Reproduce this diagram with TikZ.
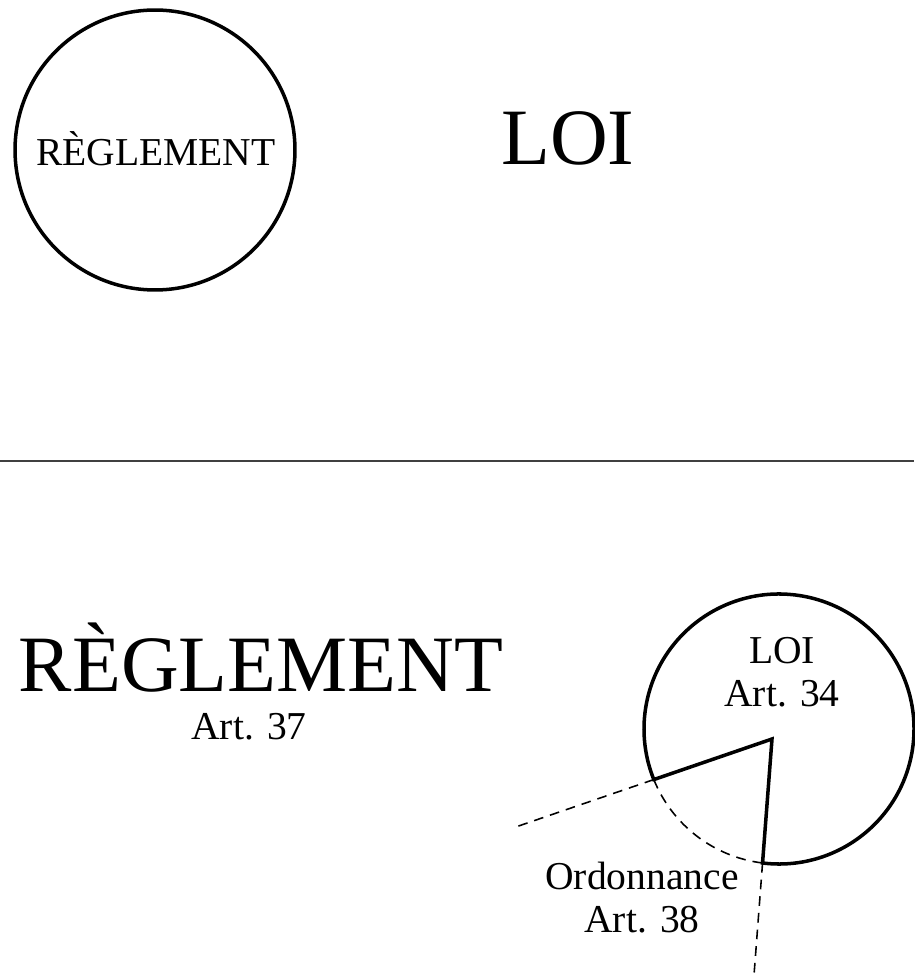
\documentclass[tikz,border=0pt]{standalone}
\usepackage{fontspec}
\setmainfont{Liberation Serif}
\usepackage{tikz}
\usetikzlibrary{positioning, calc}

\tikzset{
  bigtext/.style={font=\fontsize{45.5}{48}\selectfont, inner sep=0pt},
  smalltext/.style={font=\fontsize{22.5}{24.5}\selectfont, align=center, inner sep=0pt},
  cutline/.style={line width=0.9pt, dash pattern=on 5.5pt off 4pt},
}

\begin{document}
\begin{tikzpicture}[x=0.02cm, y=0.02cm]
\useasboundingbox (0,0) rectangle (914,978);
\node[circle, draw, line width=2pt, minimum size=5.6cm, inner sep=0pt] (reglcirc) at (155,828) {};
\node[smalltext, anchor=base] (reglsmall) at (156,812) {RÈGLEMENT};
\node[bigtext, anchor=base] (loibig) at (568,813) {LOI};
\draw[black!75, line width=1pt] (0,517) -- (914,517);
\node[bigtext, anchor=base] (reglbig) at (261,286) {RÈGLEMENT};
\node[smalltext, anchor=base] (art37) at (249,238) {Art. 37};
\coordinate (loic) at (779,249);
\coordinate (tip) at (772,239);
\coordinate (cutA) at ([shift={(202:135)}]loic);
\coordinate (cutB) at ([shift={(263:135)}]loic);
\draw[line width=2pt] (tip) -- (cutB) arc[start angle=263, end angle=562, radius=135] -- cycle;
\draw[cutline] (cutA) arc[start angle=202, end angle=263, radius=135];
\draw[cutline] (cutA) -- ($(tip)!2.18!(cutA)$);
\draw[cutline] (cutB) -- ($(tip)!2.05!(cutB)$);
\node[smalltext] (loismall) at (782,306) {LOI\\Art. 34};
\node[smalltext] (ordo) at (642,80) {Ordonnance\\Art. 38};
\end{tikzpicture}
\end{document}
